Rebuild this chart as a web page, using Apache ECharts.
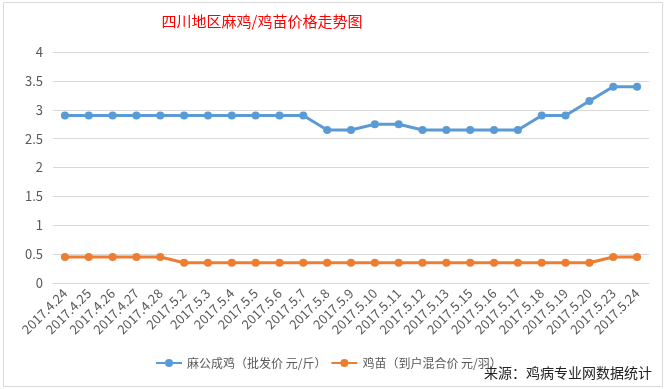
<!DOCTYPE html>
<html><head><meta charset="utf-8">
<script src="https://cdn.jsdelivr.net/npm/echarts@6/dist/echarts.min.js"></script>
<style>html,body{margin:0;padding:0;background:#fff}#c{width:667px;height:389px}</style>
</head><body><div id="c"></div>
<script>
const categories = ['2017.4.24','2017.4.25','2017.4.26','2017.4.27','2017.4.28','2017.5.2','2017.5.3','2017.5.4','2017.5.5','2017.5.6','2017.5.7','2017.5.8','2017.5.9','2017.5.10','2017.5.11','2017.5.12','2017.5.13','2017.5.15','2017.5.16','2017.5.17','2017.5.18','2017.5.19','2017.5.20','2017.5.23','2017.5.24'];
const henPrice = [2.9,2.9,2.9,2.9,2.9,2.9,2.9,2.9,2.9,2.9,2.9,2.65,2.65,2.75,2.75,2.65,2.65,2.65,2.65,2.65,2.9,2.9,3.15,3.4,3.4];
const chickPrice = [0.45,0.45,0.45,0.45,0.45,0.35,0.35,0.35,0.35,0.35,0.35,0.35,0.35,0.35,0.35,0.35,0.35,0.35,0.35,0.35,0.35,0.35,0.35,0.45,0.45];
const seriesNames = ['麻公成鸡（批发价 元/斤）','鸡苗（到户混合价 元/羽）'];
const titleText = '四川地区麻鸡/鸡苗价格走势图';
const sourceText = '来源：鸡病专业网数据统计';

const chart = echarts.init(document.getElementById('c'));
const font = 'Noto Sans CJK SC';
chart.setOption({
  animation: false,
  backgroundColor: '#fff',
  textStyle: {fontFamily: font},
  title: {text: titleText, left: 262, top: 14, textAlign: 'center', padding: 0,
    textStyle: {color: '#ff0000', fontSize: 15, fontWeight: 'normal', fontFamily: font}},
  grid: {left: 53, top: 52, width: 596, height: 231, containLabel: false},
  legend: {left: 155, top: 357, padding: 0, itemWidth: 26, itemHeight: 10, itemGap: 4,
    textStyle: {color: '#595959', fontSize: 12, fontFamily: font},
    data: seriesNames},
  xAxis: {type: 'category', data: categories, boundaryGap: true,
    axisLine: {lineStyle: {color: '#d9d9d9'}}, axisTick: {show: false},
    axisLabel: {rotate: 45, color: '#595959', fontSize: 13, margin: 8, interval: 0, fontFamily: font}},
  yAxis: {type: 'value', min: 0, max: 4, interval: 0.5,
    axisLine: {show: false}, axisTick: {show: false},
    splitLine: {lineStyle: {color: '#d9d9d9'}},
    axisLabel: {color: '#595959', fontSize: 13, margin: 10, fontFamily: font}},
  series: [
    {name: seriesNames[0], type: 'line', data: henPrice, symbol: 'circle', symbolSize: 8,
      lineStyle: {color: '#5b9bd5', width: 3}, itemStyle: {color: '#5b9bd5'}},
    {name: seriesNames[1], type: 'line', data: chickPrice, symbol: 'circle', symbolSize: 8,
      lineStyle: {color: '#ed7d31', width: 3}, itemStyle: {color: '#ed7d31'}}
  ],
  graphic: [
    {type: 'rect', shape: {x: 3.5, y: 2.5, width: 659, height: 384}, style: {fill: 'none', stroke: '#d9d9d9', lineWidth: 1}, silent: true},
    {type: 'text', left: 484, top: 366, style: {text: sourceText, fill: '#222', fontSize: 14, fontFamily: font}}
  ]
});
</script></body></html>
